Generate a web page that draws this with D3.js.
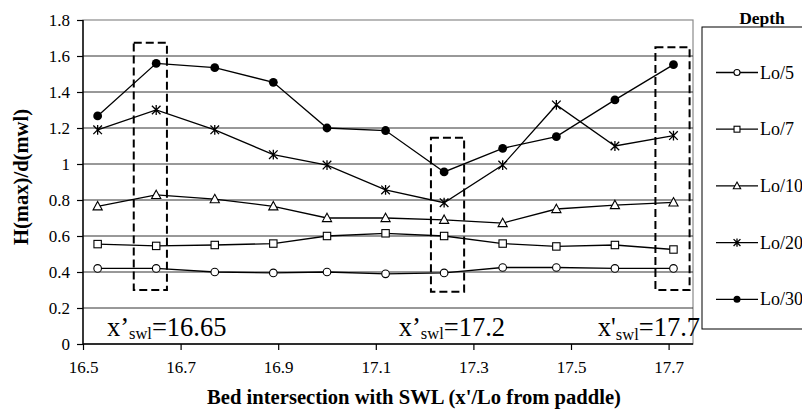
<!DOCTYPE html>
<html><head><meta charset="utf-8">
<script src="https://cdn.jsdelivr.net/npm/d3@7"></script>
<style>
html,body{margin:0;padding:0;background:#fff;}
svg{display:block;font-family:"Liberation Serif","Times New Roman",serif;}
</style></head>
<body>
<svg id="chart" width="802" height="410"></svg>
<script>
// ---- data ----
const xValues = [16.53, 16.65, 16.77, 16.89, 17.00, 17.12, 17.24, 17.36, 17.47, 17.59, 17.71];
const seriesNames = ["Lo/5", "Lo/7", "Lo/10", "Lo/20", "Lo/30"];
const lo5  = [0.42, 0.42, 0.40, 0.395, 0.40, 0.39, 0.395, 0.425, 0.425, 0.42, 0.42];
const lo7  = [0.555, 0.545, 0.55, 0.558, 0.60, 0.615, 0.60, 0.558, 0.542, 0.55, 0.525];
const lo10 = [0.765, 0.828, 0.805, 0.765, 0.70, 0.70, 0.69, 0.672, 0.75, 0.772, 0.787];
const lo20 = [1.19, 1.30, 1.19, 1.052, 0.994, 0.856, 0.785, 0.994, 1.328, 1.10, 1.158];
const lo30 = [1.267, 1.559, 1.535, 1.454, 1.20, 1.186, 0.956, 1.087, 1.152, 1.356, 1.552];
const xTicks = [16.5, 16.7, 16.9, 17.1, 17.3, 17.5, 17.7];
const xTickLabels = ["16.5", "16.7", "16.9", "17.1", "17.3", "17.5", "17.7"];
const yTicks = [0, 0.2, 0.4, 0.6, 0.8, 1.0, 1.2, 1.4, 1.6, 1.8];
const yTickLabels = ["0", "0.2", "0.4", "0.6", "0.8", "1", "1.2", "1.4", "1.6", "1.8"];
// highlighted regions [x0, x1, y0, y1]
const boxes = [[16.604, 16.672, 0.30, 1.673], [17.213, 17.281, 0.29, 1.146], [17.673, 17.743, 0.30, 1.648]];
// annotations: [x, y, prime, value]
const annotations = [[16.549, 0.045, "\u2019", "=16.65"], [17.147, 0.045, "\u2019", "=17.2"], [17.555, 0.042, "'", "=17.7"]];
const xLabel = "Bed intersection with SWL (x'/Lo from paddle)";
const yLabel = "H(max)/d(mwl)";
const legendTitle = "Depth";

const allSeries = [lo5, lo7, lo10, lo20, lo30];
const markerTypes = ["circle", "square", "triangle", "star", "dot"];

// ---- layout ----
const svg = d3.select("#chart");
const mLeft = 83, mRight = 693, mTop = 20, mBottom = 344;
const x = d3.scaleLinear().domain([16.5, 17.75]).range([mLeft, mRight]);
const y = d3.scaleLinear().domain([0, 1.8]).range([mBottom, mTop]);

// plot border
svg.append("rect").attr("x", mLeft).attr("y", mTop).attr("width", mRight - mLeft).attr("height", mBottom - mTop)
  .attr("fill", "none").attr("stroke", "#8a8a8a").attr("stroke-width", 1.2);

// gridlines
svg.append("g").selectAll("line").data(yTicks.filter(d => d > 0 && d < 1.8)).join("line")
  .attr("x1", mLeft).attr("x2", mRight).attr("y1", d => y(d)).attr("y2", d => y(d))
  .attr("stroke", "#333").attr("stroke-width", 1);

// axes
const yAxis = d3.axisLeft(y).tickValues(yTicks).tickFormat((d, i) => yTickLabels[i]).tickSize(6).tickPadding(7);
const gy = svg.append("g").attr("transform", `translate(${mLeft},0)`).call(yAxis);
const xAxis = d3.axisBottom(x).tickValues(xTicks).tickFormat((d, i) => xTickLabels[i]).tickSize(6).tickPadding(11);
const gx = svg.append("g").attr("transform", `translate(0,${mBottom})`).call(xAxis);
[gx, gy].forEach(g => {
  g.attr("font-family", null);
  g.select(".domain").attr("stroke", "#000").attr("stroke-width", 1.4);
  g.selectAll(".tick line").attr("stroke", "#000").attr("stroke-width", 1.2);
  g.selectAll(".tick text").attr("font-family", "'Liberation Serif', 'Times New Roman', serif")
    .attr("font-size", 17).attr("fill", "#000");
});
gx.select(".domain").attr("d", `M${mLeft},0H${mRight}`);
gy.select(".domain").attr("d", `M0,${mBottom}V${mTop}`);

// dashed boxes
svg.append("g").selectAll("rect").data(boxes).join("rect")
  .attr("x", d => x(d[0])).attr("y", d => y(d[3]))
  .attr("width", d => x(d[1]) - x(d[0])).attr("height", d => y(d[2]) - y(d[3]))
  .attr("fill", "none").attr("stroke", "#000").attr("stroke-width", 2)
  .attr("stroke-dasharray", "8,4");

// marker drawing
function drawMarker(g, type, scale) {
  const s = scale || 1;
  if (type === "circle") {
    g.append("circle").attr("r", 3.8 * s).attr("fill", "#fff").attr("stroke", "#000").attr("stroke-width", 1.1);
  } else if (type === "square") {
    g.append("rect").attr("x", -3.7 * s).attr("y", -3.7 * s).attr("width", 7.4 * s).attr("height", 7.4 * s)
      .attr("fill", "#fff").attr("stroke", "#000").attr("stroke-width", 1.1);
  } else if (type === "triangle") {
    g.append("path").attr("d", `M0,${-4.8 * s}L${4.6 * s},${3.6 * s}L${-4.6 * s},${3.6 * s}Z`)
      .attr("fill", "#fff").attr("stroke", "#000").attr("stroke-width", 1.1);
  } else if (type === "star") {
    const a = 4.3 * s;
    g.append("path").attr("d", `M${-a},${-a}L${a},${a}M${-a},${a}L${a},${-a}M0,${-a - 0.6}L0,${a + 0.6}`)
      .attr("fill", "none").attr("stroke", "#000").attr("stroke-width", 1.3);
  } else if (type === "dot") {
    g.append("circle").attr("r", 4.4 * s).attr("fill", "#000");
  }
}

const line = d3.line().x((d, i) => x(xValues[i])).y(d => y(d));
allSeries.forEach((vals, si) => {
  const g = svg.append("g");
  g.append("path").attr("d", line(vals)).attr("fill", "none").attr("stroke", "#000").attr("stroke-width", 1.3);
  vals.forEach((v, i) => {
    const m = g.append("g").attr("transform", `translate(${x(xValues[i])},${y(v)})`);
    drawMarker(m, markerTypes[si]);
  });
});

// annotations
annotations.forEach(a => {
  const t = svg.append("text").attr("x", x(a[0])).attr("y", y(a[1]))
    .attr("font-size", 26.5).attr("fill", "#000");
  t.append("tspan").text("x" + a[2]);
  t.append("tspan").attr("font-size", 16.5).attr("dy", 3.5).text("swl");
  t.append("tspan").attr("dy", -3.5).text(a[3]);
});

// axis titles
svg.append("text").attr("x", 414).attr("y", 404).attr("text-anchor", "middle")
  .attr("font-weight", "bold").attr("font-size", 20.6).text(xLabel);
svg.append("text").attr("transform", "translate(28,177) rotate(-90)").attr("text-anchor", "middle")
  .attr("font-weight", "bold").attr("font-size", 20.6).text(yLabel);

// legend
svg.append("text").attr("x", 762).attr("y", 24).attr("text-anchor", "middle")
  .attr("font-weight", "bold").attr("font-size", 17.5).text(legendTitle);
svg.append("rect").attr("x", 702).attr("y", 27).attr("width", 140).attr("height", 302)
  .attr("fill", "#fff").attr("stroke", "#000").attr("stroke-width", 1);
seriesNames.forEach((name, i) => {
  const ly = 72.5 + i * 56.7;
  const g = svg.append("g");
  g.append("line").attr("x1", 716).attr("x2", 758).attr("y1", ly).attr("y2", ly)
    .attr("stroke", "#000").attr("stroke-width", 1.3);
  const m = g.append("g").attr("transform", `translate(737,${ly})`);
  drawMarker(m, markerTypes[i], 0.8);
  g.append("text").attr("x", 760).attr("y", ly + 6).attr("font-size", 18).text(name);
});
</script>
</body></html>
